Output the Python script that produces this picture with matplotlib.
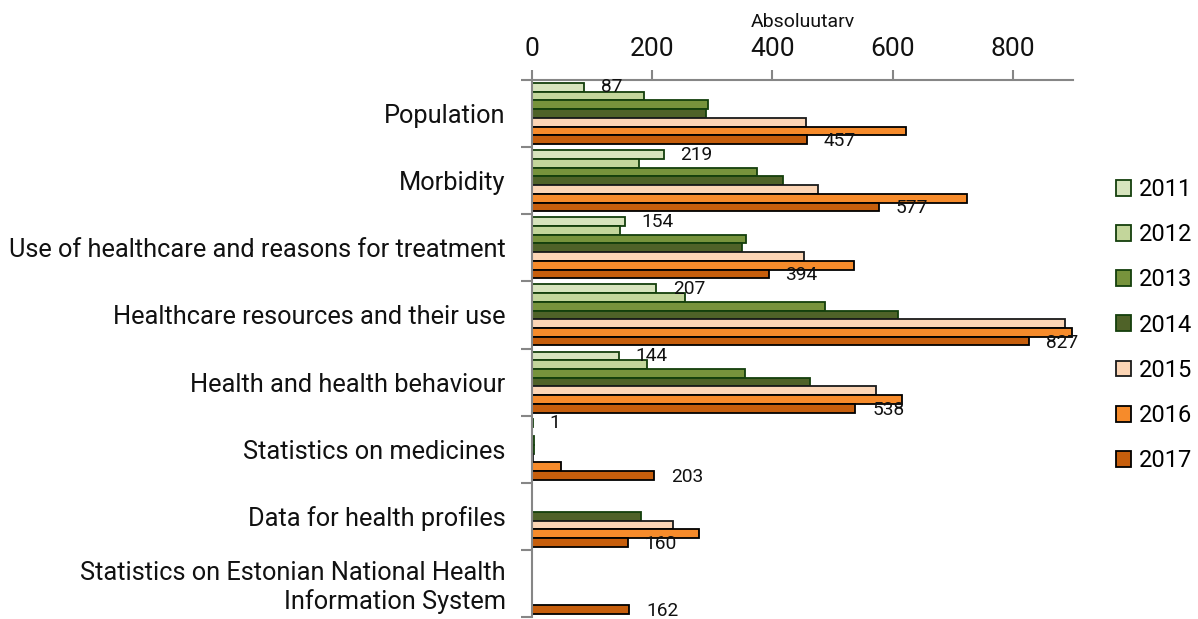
import matplotlib
matplotlib.use("Agg")
import matplotlib.pyplot as plt
from matplotlib.patches import Patch
import numpy as np

plt.rcParams['font.family'] = ['Roboto', 'DejaVu Sans']

categories = [
    "Population",
    "Morbidity",
    "Use of healthcare and reasons for treatment",
    "Healthcare resources and their use",
    "Health and health behaviour",
    "Statistics on medicines",
    "Data for health profiles",
    "Statistics on Estonian National Health\nInformation System",
]
years = ["2011", "2012", "2013", "2014", "2015", "2016", "2017"]

v2011 = [87, 219, 154, 207, 144, 1, 0, 0]
v2012 = [186, 178, 146, 255, 192, 0, 0, 0]
v2013 = [293, 375, 356, 487, 355, 4, 0, 0]
v2014 = [290, 418, 350, 609, 463, 3, 181, 0]
v2015 = [456, 475, 452, 886, 572, 1, 235, 0]
v2016 = [623, 724, 535, 899, 615, 48, 278, 0]
v2017 = [457, 577, 394, 827, 538, 203, 160, 162]
series = [v2011, v2012, v2013, v2014, v2015, v2016, v2017]

colors = ["#D7E4BD", "#C3D69B", "#77933C", "#4F6228", "#FCD5B5", "#F68B2B", "#C65E0C"]
edges = ["#143F0C", "#143F0C", "#143F0C", "#143F0C", "#1A1A1A", "#000000", "#000000"]

W, H = 1198, 619
fig = plt.figure(figsize=(W / 100, H / 100), dpi=100)
ax = fig.add_axes([532 / W, 1 - 617 / H, (1073 - 532) / W, (617 - 80) / H])

n = len(years)
bh = 0.13
y = np.arange(len(categories))
for i, (vals, c, e) in enumerate(zip(series, colors, edges)):
    pos = y - 0.455 + bh * (i + 0.5)
    ax.barh(pos, vals, height=bh, color=c, edgecolor=e, linewidth=1.3, zorder=2)
    if i == 0 or i == n - 1:
        for p, v in zip(pos, vals):
            if v > 0:
                ax.annotate(str(v), (v, p), xytext=(12, -1 if i == n - 1 else 0),
                            textcoords="offset points", ha="left", va="center",
                            fontsize=13.8, color="#111111", zorder=3)

ax.set_xlim(0, 900)
ax.set_ylim(len(categories) - 0.5, -0.5)
ax.xaxis.tick_top()
ax.xaxis.set_label_position('top')
ax.set_xticks([0, 200, 400, 600, 800])
ax.set_xlabel("Absoluutarv", fontsize=14, labelpad=7, color="#111111")
ax.tick_params(axis='x', which='major', length=7, width=1.5, color="#868686",
               labelsize=19, pad=7, labelcolor="#111111")

ax.set_yticks(y)
ax.set_yticklabels(categories, fontsize=18.3, color="#111111")
ax.set_yticks(np.arange(-0.5, len(categories) + 0.5, 1), minor=True)
ax.tick_params(axis='y', which='major', length=0, pad=19)
ax.tick_params(axis='y', which='minor', length=8, width=1.5, color="#868686")

for s in ['right', 'bottom']:
    ax.spines[s].set_visible(False)
for s in ['top', 'left']:
    ax.spines[s].set_color("#868686")
    ax.spines[s].set_linewidth(1.5)

handles = [Patch(facecolor=c, edgecolor=e, linewidth=1.3) for c, e in zip(colors, edges)]
fig.legend(handles, years, loc='upper left', bbox_to_anchor=(1116 / W, 1 - 178 / H),
           frameon=False, fontsize=17, handlelength=0.65, handleheight=0.65,
           handletextpad=0.3, labelspacing=0.94, borderaxespad=0, borderpad=0)

fig.savefig("out.png", dpi=100)
